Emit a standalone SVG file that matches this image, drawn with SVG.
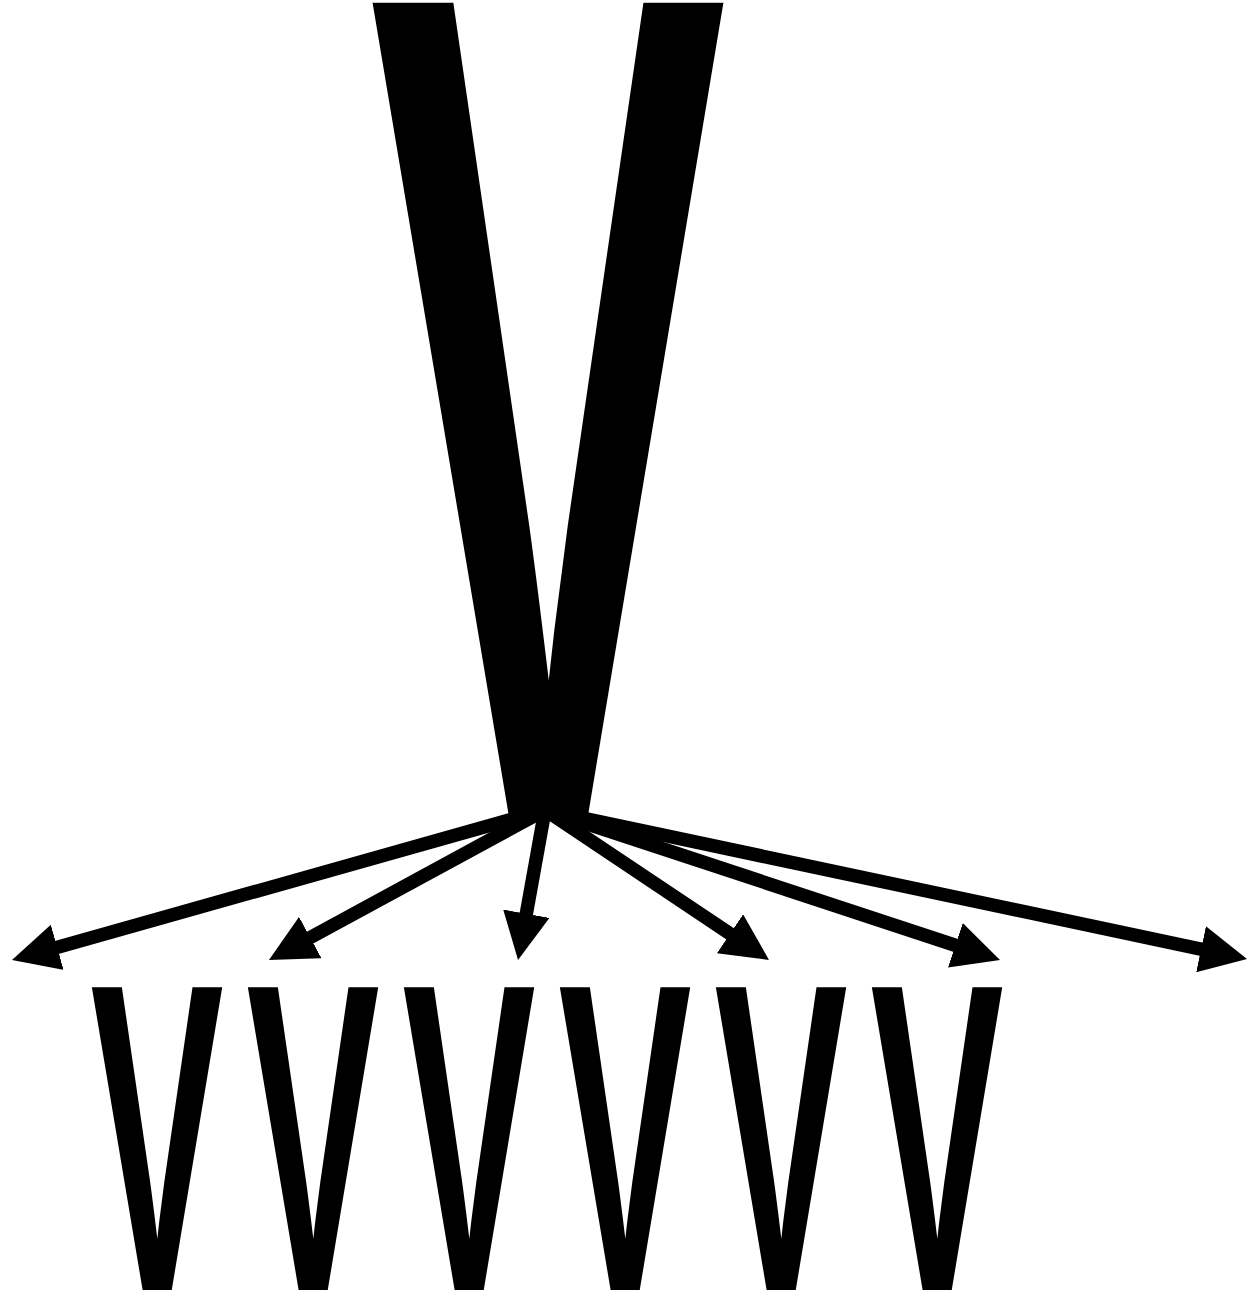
<svg xmlns="http://www.w3.org/2000/svg" width="1248" height="1298" viewBox="0 0 1248 1298">
<style>
.v{font-family:"Liberation Sans",Arial,sans-serif;font-weight:bold;font-size:100px;fill:#000}
.c{stroke:#000;stroke-width:13.5;fill:none;marker-end:url(#ah)}
</style>
<defs>
<marker id="ah" viewBox="0 0 47 47" markerWidth="47" markerHeight="47" markerUnits="userSpaceOnUse" refX="7" refY="23.5" orient="auto">
<path d="M0,0 L47,23.5 L0,47 z" fill="#000"/>
</marker>
</defs>
<rect width="1248" height="1298" fill="#fff"/>
<g id="node-root"><text class="v" transform="translate(368.9,818) scale(5.37,11.85)">V</text></g>
<g id="node-1"><text class="v" transform="translate(90.5,1290) scale(1.995,4.4)">V</text></g>
<g id="node-2"><text class="v" transform="translate(246.5,1290) scale(1.995,4.4)">V</text></g>
<g id="node-3"><text class="v" transform="translate(402.5,1290) scale(1.995,4.4)">V</text></g>
<g id="node-4"><text class="v" transform="translate(558.5,1290) scale(1.995,4.4)">V</text></g>
<g id="node-5"><text class="v" transform="translate(714.5,1290) scale(1.995,4.4)">V</text></g>
<g id="node-6"><text class="v" transform="translate(870.5,1290) scale(1.995,4.4)">V</text></g>
<g id="connectors">
<line class="c" x1="545" y1="810" x2="50.5" y2="949.2"/>
<line class="c" x1="545" y1="810" x2="304.1" y2="940.9"/>
<line class="c" x1="545" y1="810" x2="525.1" y2="920.6"/>
<line class="c" x1="545" y1="810" x2="735.8" y2="937.7"/>
<line class="c" x1="545" y1="810" x2="962.0" y2="947.5"/>
<line class="c" x1="545" y1="810" x2="1207.9" y2="950.7"/>
</g>
</svg>
